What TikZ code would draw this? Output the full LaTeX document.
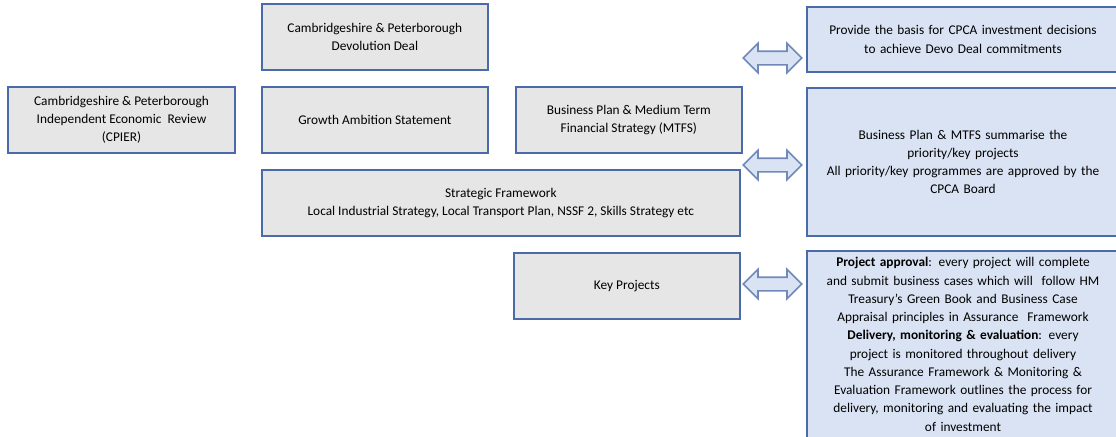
\documentclass[tikz,border=0pt]{standalone}
\usepackage{fontspec}
\setmainfont{Carlito}
\usepackage{tikz}
\usetikzlibrary{positioning,shapes.arrows}
\definecolor{boxgray}{HTML}{E7E6E6}
\definecolor{boxblue}{HTML}{DAE3F3}
\definecolor{edgeblue}{HTML}{4A6BA8}
\definecolor{arrowedge}{HTML}{7089BA}
\tikzstyle{block} = [rectangle, draw=edgeblue, line width=1.5pt, fill=boxgray,
    align=center, minimum width=169.5pt, minimum height=49.5pt, inner sep=2pt,
    font=\fontsize{10}{13.7}\selectfont]
\tikzstyle{note} = [block, fill=boxblue, minimum width=234pt, text width=228pt]
\tikzstyle{twoway} = [double arrow, draw=arrowedge, line width=1.2pt, fill=boxblue,
    minimum height=44pt, minimum width=21pt, double arrow head extend=6pt,
    inner xsep=0pt, inner ysep=4.5pt]

\begin{document}
\begin{tikzpicture}[x=0.75pt, y=-0.75pt, node distance=12pt]
    \useasboundingbox (0,0) rectangle (1116,436);
    \clip (0,0) rectangle (1116,436);
    % Place nodes

    \node [block, minimum width=170pt] (cpier) at (121.5,120) {Cambridgeshire \& Peterborough\\Independent Economic\ \ Review\\(CPIER)};
    \node [block, right = 18.75pt of cpier] (gas) {Growth Ambition Statement};
    \node [block, above = 11.25pt of gas] (devo) {Cambridgeshire \& Peterborough\\Devolution Deal};
    \node [block, right = 19.5pt of gas] (bp) {Business Plan \& Medium Term\\Financial Strategy (MTFS)};
    \node [block, minimum width=358.5pt, below right = 11.5pt and 0pt of gas.south west] (sf) {Strategic Framework\\Local Industrial Strategy, Local Transport Plan, NSSF 2, Skills Strategy etc};
    \node [block, below left = 11pt and 0pt of sf.south east] (kp) {Key Projects};

    \node [note, minimum height=48.75pt, anchor=north west] (basis) at (806,6) {Provide the basis for CPCA investment decisions\\to achieve Devo Deal commitments};
    \node [note, minimum height=111pt, anchor=north west] (plan) at (806,87) {Business Plan \& MTFS summarise the\\priority/key projects\\All priority/key programmes are approved by the\\CPCA Board};
    \node [note, minimum height=140pt, anchor=north west] (assure) at (806,250) {\textbf{Project approval}: every project will complete\\and submit business cases which will\ \ follow HM\\Treasury's Green Book and Business Case\\Appraisal principles in Assurance\ \ Framework\\\textbf{Delivery, monitoring \& evaluation}: every\\project is monitored throughout delivery\\The Assurance Framework \& Monitoring \&\\Evaluation Framework outlines the process for\\delivery, monitoring and evaluating the impact\\of investment};

    % two-way links
    \node [twoway] (link1) at (772.5,58) {};
    \node [twoway] (link2) at (772.5,165) {};
    \node [twoway] (link3) at (772.5,284) {};
\end{tikzpicture}
\end{document}
